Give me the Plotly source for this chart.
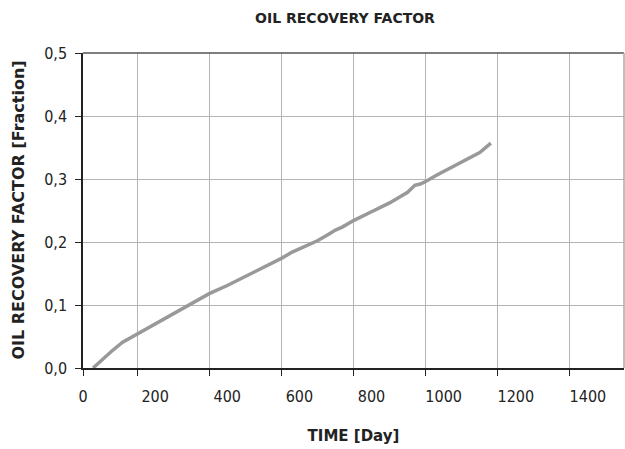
import plotly.graph_objects as go

days = [28, 50, 80, 110, 150, 200, 250, 300, 350, 400, 450, 500, 550, 580, 620, 650,
        680, 700, 720, 750, 800, 850, 900, 920, 935, 950, 980, 1000, 1050, 1100, 1131]
recovery = [0.0, 0.012, 0.027, 0.041, 0.054, 0.070, 0.087, 0.103, 0.118, 0.131, 0.145,
            0.159, 0.174, 0.184, 0.195, 0.202, 0.212, 0.219, 0.224, 0.234, 0.248, 0.262,
            0.279, 0.290, 0.292, 0.296, 0.306, 0.312, 0.327, 0.342, 0.357]

x_label_vals = [0, 200, 400, 600, 800, 1000, 1200, 1400]
x_grid_vals = [0, 150, 350, 550, 750, 950, 1150, 1350]
y_vals = [0.0, 0.1, 0.2, 0.3, 0.4, 0.5]
y_text = ["0,0", "0,1", "0,2", "0,3", "0,4", "0,5"]

FONT = "DejaVu Sans Condensed"
BOLD_FONT = "DejaVu Sans"
TXT = "#222222"

fig = go.Figure()
fig.add_trace(go.Scatter(x=days, y=recovery, mode="lines",
                         line=dict(color="#999999", width=3.5), showlegend=False,
                         xaxis="x", yaxis="y"))
# invisible anchor trace so the label axis is drawn
fig.add_trace(go.Scatter(x=[x_label_vals[0]], y=[y_vals[0]], mode="markers",
                         marker=dict(opacity=0), showlegend=False, hoverinfo="skip",
                         xaxis="x2", yaxis="y"))

fig.update_layout(
    width=625, height=449,
    margin=dict(l=83, r=1, t=53, b=81),
    paper_bgcolor="white", plot_bgcolor="white",
    font=dict(family=FONT, size=16, color=TXT),
    title=dict(text="<b>OIL RECOVERY FACTOR</b>", x=0.552, xanchor="center",
               y=0.96, yanchor="middle", font=dict(family=BOLD_FONT, size=14, color=TXT)),
    xaxis=dict(range=[0, 1500], tickvals=x_grid_vals, showticklabels=False,
               ticks="outside", ticklen=6, tickcolor=TXT, tickwidth=1,
               showgrid=True, gridcolor="#b4b4b4", gridwidth=1,
               showline=True, linecolor=TXT, linewidth=1.5,
               zeroline=False, fixedrange=True),
    xaxis2=dict(range=[0, 1500], overlaying="x", anchor="y", side="bottom",
                tickvals=x_label_vals, ticktext=[str(v) for v in x_label_vals],
                ticks="", ticklabelstandoff=17, showgrid=False, showline=False,
                zeroline=False, tickfont=dict(family=FONT, size=16, color=TXT),
                title=dict(text="<b>TIME [Day]</b>", standoff=25,
                           font=dict(family=BOLD_FONT, size=15, color=TXT))),
    yaxis=dict(range=[0, 0.5], tickvals=y_vals, ticktext=y_text,
               ticks="outside", ticklen=6, tickcolor=TXT, ticklabelstandoff=5,
               showgrid=True, gridcolor="#b4b4b4", gridwidth=1,
               showline=True, linecolor=TXT, linewidth=1.5,
               zeroline=False, tickfont=dict(family=FONT, size=16, color=TXT)),
    annotations=[dict(text="<b>OIL RECOVERY FACTOR [Fraction]</b>", textangle=-90,
                      xref="paper", yref="paper", x=-0.12, y=0.5,
                      xanchor="center", yanchor="middle", showarrow=False,
                      font=dict(family=BOLD_FONT, size=16, color=TXT))],
)

# top and right frame lines
fig.add_shape(type="line", xref="paper", yref="paper", x0=0, x1=1, y0=1, y1=1,
              line=dict(color="#555555", width=1.5))
fig.add_shape(type="line", xref="paper", yref="paper", x0=1, x1=1, y0=0, y1=1,
              line=dict(color="#aaaaaa", width=1.5))

fig.write_html("out.html")
